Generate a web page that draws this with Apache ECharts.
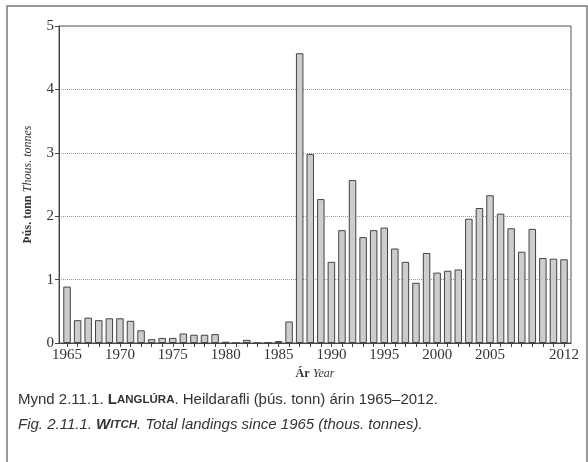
<!DOCTYPE html>
<html>
<head>
<meta charset="utf-8">
<script src="https://cdn.jsdelivr.net/npm/echarts@6/dist/echarts.min.js"></script>
<style>
  html, body { margin: 0; padding: 0; background: #fff; }
  #main { width: 588px; height: 462px; }
</style>
</head>
<body>
<div id="main"></div>
<script>
// landings, thous. tonnes
var years = [];
for (var y = 1965; y <= 2012; y++) years.push(y);
var landings = [
  0.89, 0.36, 0.40, 0.36, 0.39, 0.39, 0.35, 0.20, 0.06, 0.08,
  0.08, 0.15, 0.13, 0.13, 0.14, 0.02, 0.00, 0.05, 0.00, 0.01,
  0.03, 0.34, 4.57, 2.98, 2.27, 1.28, 1.78, 2.57, 1.67, 1.78,
  1.82, 1.49, 1.28, 0.95, 1.42, 1.11, 1.14, 1.16, 1.96, 2.13,
  2.33, 2.04, 1.81, 1.44, 1.80, 1.34, 1.33, 1.32
];
var yearLabels = [1965, 1970, 1975, 1980, 1985, 1990, 1995, 2000, 2005, 2012];

var serif = '"Liberation Serif", "DejaVu Serif", serif';
var sans = '"Liberation Sans", Arial, sans-serif';

var myChart = echarts.init(document.getElementById('main'));
var option = {
  animation: false,
  backgroundColor: '#fff',
  grid: {
    left: 59, right: 17, top: 26, bottom: 119,
    show: true, borderColor: '#555', borderWidth: 1
  },
  xAxis: {
    type: 'value',
    min: 1964.24,
    max: 2012.66,
    name: '{b|Ár} {i|Year}',
    nameLocation: 'middle',
    nameGap: 21,
    nameTextStyle: {
      rich: {
        b: { fontFamily: serif, fontWeight: 'bold', fontSize: 12, color: '#333' },
        i: { fontFamily: serif, fontStyle: 'italic', fontSize: 12, color: '#333' }
      }
    },
    axisLine: { show: true, lineStyle: { color: '#444', width: 1 } },
    axisTick: { show: true, length: 4, customValues: years, lineStyle: { color: '#444' } },
    axisLabel: {
      customValues: yearLabels,
      formatter: function (v) { return String(v); },
      fontFamily: serif, fontSize: 15, color: '#333', margin: 5
    },
    splitLine: { show: false }
  },
  yAxis: {
    type: 'value',
    min: 0, max: 5, interval: 1,
    name: '{b|Þús. tonn} {i|Thous. tonnes}',
    nameLocation: 'middle',
    nameGap: 25,
    nameTextStyle: {
      rich: {
        b: { fontFamily: serif, fontWeight: 'bold', fontSize: 12, color: '#333' },
        i: { fontFamily: serif, fontStyle: 'italic', fontSize: 12, color: '#333' }
      }
    },
    axisLine: { show: true, lineStyle: { color: '#444', width: 1 } },
    axisTick: { show: true, length: 4, lineStyle: { color: '#444' } },
    axisLabel: { fontFamily: serif, fontSize: 15, color: '#333', margin: 5 },
    splitLine: { show: true, lineStyle: { color: '#999', type: 'dotted', width: 1 } }
  },
  series: [{
    type: 'bar',
    barWidth: 7.5,
    data: years.map(function (yr, i) { return [yr, landings[i]]; }),
    itemStyle: { color: '#cdcdcd', borderColor: '#444', borderWidth: 1 }
  }],
  graphic: [
    {
      type: 'rect', silent: true,
      shape: { x: 7, y: 6, width: 580, height: 470 },
      style: { fill: 'none', stroke: '#777', lineWidth: 1.5 }
    },
    {
      type: 'text', left: 18, top: 392,
      style: {
        text: '{n|Mynd 2.11.1. }{b|L}{bs|ANGLÚRA}{n|. Heildarafli (þús. tonn) árin 1965–2012.}',
        rich: {
          n: { fontFamily: sans, fontSize: 15, fill: '#333' },
          b: { fontFamily: sans, fontSize: 15, fontWeight: 'bold', fill: '#333' },
          bs: { fontFamily: sans, fontSize: 11.5, fontWeight: 'bold', fill: '#333' }
        }
      }
    },
    {
      type: 'text', left: 18, top: 417,
      style: {
        text: '{n|Fig. 2.11.1. }{b|W}{bs|ITCH}{n|. Total landings since 1965 (thous. tonnes).}',
        rich: {
          n: { fontFamily: sans, fontSize: 15, fontStyle: 'italic', fill: '#333' },
          b: { fontFamily: sans, fontSize: 15, fontStyle: 'italic', fontWeight: 'bold', fill: '#333' },
          bs: { fontFamily: sans, fontSize: 11.5, fontStyle: 'italic', fontWeight: 'bold', fill: '#333' }
        }
      }
    }
  ]
};
myChart.setOption(option);
</script>
</body>
</html>
